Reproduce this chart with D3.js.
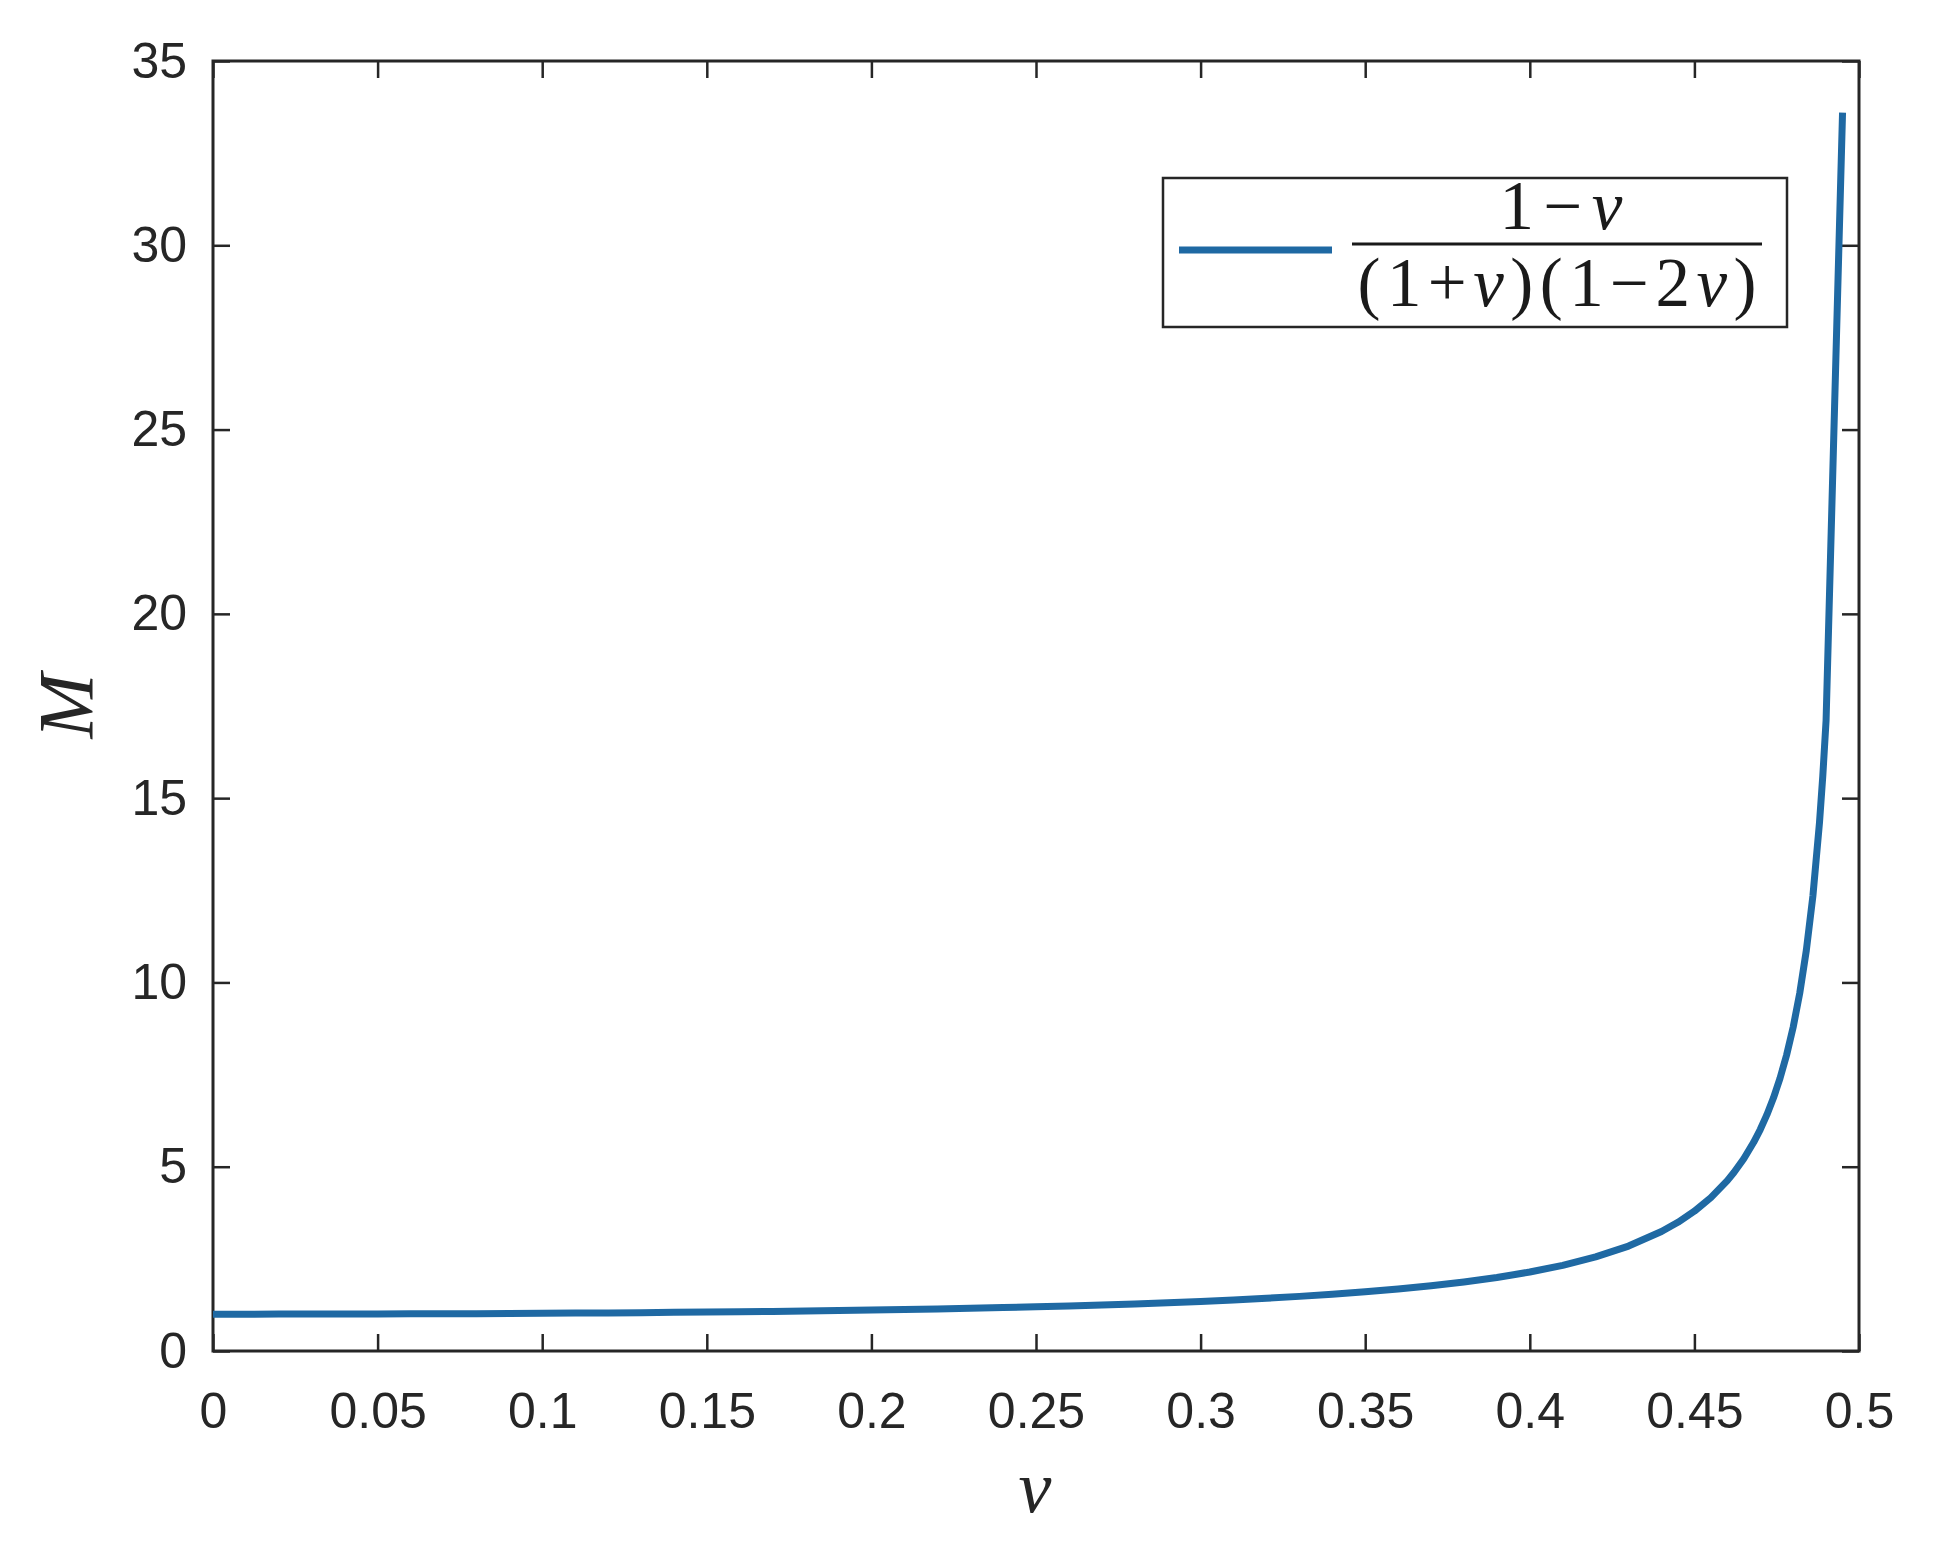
<!DOCTYPE html>
<html>
<head>
<meta charset="utf-8">
<script src="https://cdn.jsdelivr.net/npm/d3@7"></script>
<style>
  html, body { margin: 0; padding: 0; background: #ffffff; }
  svg { display: block; }
</style>
</head>
<body>
<svg id="chart" width="1936" height="1551"></svg>
<script>
// ---- data ----
const vValues = [0.00, 0.01, 0.02, 0.03, 0.04, 0.05, 0.06, 0.07, 0.08, 0.09,
                 0.10, 0.11, 0.12, 0.13, 0.14, 0.15, 0.16, 0.17, 0.18, 0.19,
                 0.20, 0.21, 0.22, 0.23, 0.24, 0.25, 0.26, 0.27, 0.28, 0.29,
                 0.30, 0.31, 0.32, 0.33, 0.34, 0.35, 0.36, 0.37, 0.38, 0.39,
                 0.40, 0.41, 0.42, 0.43, 0.44, 0.445, 0.45, 0.455, 0.46, 0.462,
                 0.465, 0.468, 0.47, 0.472, 0.474, 0.476, 0.478, 0.48, 0.482, 0.484,
                 0.486, 0.488, 0.489, 0.49, 0.495];
const mValues = [1.000, 1.000, 1.001, 1.002, 1.003, 1.005, 1.008, 1.011, 1.014, 1.018,
                 1.023, 1.028, 1.034, 1.040, 1.048, 1.056, 1.065, 1.075, 1.086, 1.098,
                 1.111, 1.126, 1.142, 1.159, 1.179, 1.200, 1.224, 1.250, 1.278, 1.310,
                 1.346, 1.386, 1.431, 1.482, 1.539, 1.605, 1.681, 1.769, 1.872, 1.995,
                 2.143, 2.325, 2.553, 2.847, 3.241, 3.492, 3.793, 4.162, 4.623, 4.842,
                 5.217, 5.662, 6.009, 6.405, 6.863, 7.396, 8.027, 8.784, 9.709, 10.87,
                 12.35, 14.34, 15.60, 17.11, 33.6];
const xTicks = [0, 0.05, 0.1, 0.15, 0.2, 0.25, 0.3, 0.35, 0.4, 0.45, 0.5];
const xTickLabels = ["0", "0.05", "0.1", "0.15", "0.2", "0.25", "0.3", "0.35", "0.4", "0.45", "0.5"];
const yTicks = [0, 5, 10, 15, 20, 25, 30, 35];
const yTickLabels = ["0", "5", "10", "15", "20", "25", "30", "35"];
const xLabel = "v";
const yLabel = "M";
const legendNumerator = "1\u2212v";
const legendDenominator = "(1+v)(1\u22122v)";

// ---- layout ----
const plotLeft = 213, plotRight = 1859, plotTop = 61, plotBottom = 1351;
const axisColor = "#262626";
const lineColor = "#1f69a3";

const svg = d3.select("#chart");
svg.append("rect").attr("width", 1936).attr("height", 1551).attr("fill", "#ffffff");

const x = d3.scaleLinear().domain([0, 0.5]).range([plotLeft, plotRight]);
const y = d3.scaleLinear().domain([0, 35]).range([plotBottom, plotTop]);

const tickFont = "'Liberation Sans', Arial, Helvetica, sans-serif";
const mathFont = "'Liberation Serif', 'Times New Roman', serif";

function styleAxis(g) {
  g.select(".domain").remove();
  g.selectAll(".tick line").attr("stroke", axisColor).attr("stroke-width", 2.5);
  g.selectAll(".tick text")
    .attr("fill", axisColor)
    .style("font-family", tickFont)
    .style("font-size", "50px");
}

// bottom axis with labels
svg.append("g")
  .attr("transform", `translate(0,${plotBottom})`)
  .call(d3.axisBottom(x).tickValues(xTicks)
    .tickFormat((d, i) => xTickLabels[i])
    .tickSizeInner(-17).tickSizeOuter(0).tickPadding(41))
  .call(styleAxis);

// top axis (ticks only)
svg.append("g")
  .attr("transform", `translate(0,${plotTop})`)
  .call(d3.axisTop(x).tickValues(xTicks).tickFormat("")
    .tickSizeInner(-17).tickSizeOuter(0))
  .call(styleAxis);

// left axis with labels
svg.append("g")
  .attr("transform", `translate(${plotLeft},0)`)
  .call(d3.axisLeft(y).tickValues(yTicks)
    .tickFormat((d, i) => yTickLabels[i])
    .tickSizeInner(-17).tickSizeOuter(0).tickPadding(26))
  .call(styleAxis);

// right axis (ticks only)
svg.append("g")
  .attr("transform", `translate(${plotRight},0)`)
  .call(d3.axisRight(y).tickValues(yTicks).tickFormat("")
    .tickSizeInner(-17).tickSizeOuter(0))
  .call(styleAxis);

// frame
svg.append("rect")
  .attr("x", plotLeft).attr("y", plotTop)
  .attr("width", plotRight - plotLeft).attr("height", plotBottom - plotTop)
  .attr("fill", "none").attr("stroke", axisColor).attr("stroke-width", 3);

// curve
const pts = vValues.map((v, i) => [v, mValues[i]]);
const line = d3.line().x(d => x(d[0])).y(d => y(d[1])).curve(d3.curveLinear);
svg.append("path")
  .datum(pts)
  .attr("d", line)
  .attr("fill", "none")
  .attr("stroke", lineColor)
  .attr("stroke-width", 7)
  .attr("stroke-linejoin", "round");

// axis labels
svg.append("text")
  .attr("x", 1035).attr("y", 1512)
  .attr("text-anchor", "middle")
  .attr("fill", axisColor)
  .style("font-family", mathFont)
  .style("font-style", "italic")
  .style("font-size", "74px")
  .text(xLabel);

svg.append("text")
  .attr("transform", "translate(92,706) rotate(-90)")
  .attr("text-anchor", "middle")
  .attr("fill", axisColor)
  .style("font-family", mathFont)
  .style("font-style", "italic")
  .style("font-size", "78px")
  .text(yLabel);

// legend
const lg = svg.append("g");
lg.append("rect")
  .attr("x", 1163).attr("y", 178).attr("width", 624).attr("height", 149)
  .attr("fill", "#ffffff").attr("stroke", axisColor).attr("stroke-width", 2.5);
lg.append("line")
  .attr("x1", 1179).attr("x2", 1332).attr("y1", 250).attr("y2", 250)
  .attr("stroke", lineColor).attr("stroke-width", 7);
lg.append("line")
  .attr("x1", 1352).attr("x2", 1762).attr("y1", 244).attr("y2", 244)
  .attr("stroke", "#1a1a1a").attr("stroke-width", 3);

function mathText(g, str, cx, baseline, width) {
  const t = g.append("text")
    .attr("x", cx - width / 2).attr("y", baseline)
    .attr("textLength", width).attr("lengthAdjust", "spacing")
    .attr("fill", "#1a1a1a")
    .style("font-family", mathFont)
    .style("font-size", "69px");
  for (const ch of str) {
    const s = t.append("tspan").text(ch);
    if (ch === "v") s.style("font-style", "italic");
  }
}
mathText(lg, legendNumerator, 1561, 229, 123);
mathText(lg, legendDenominator, 1557, 306, 399);
</script>
</body>
</html>
